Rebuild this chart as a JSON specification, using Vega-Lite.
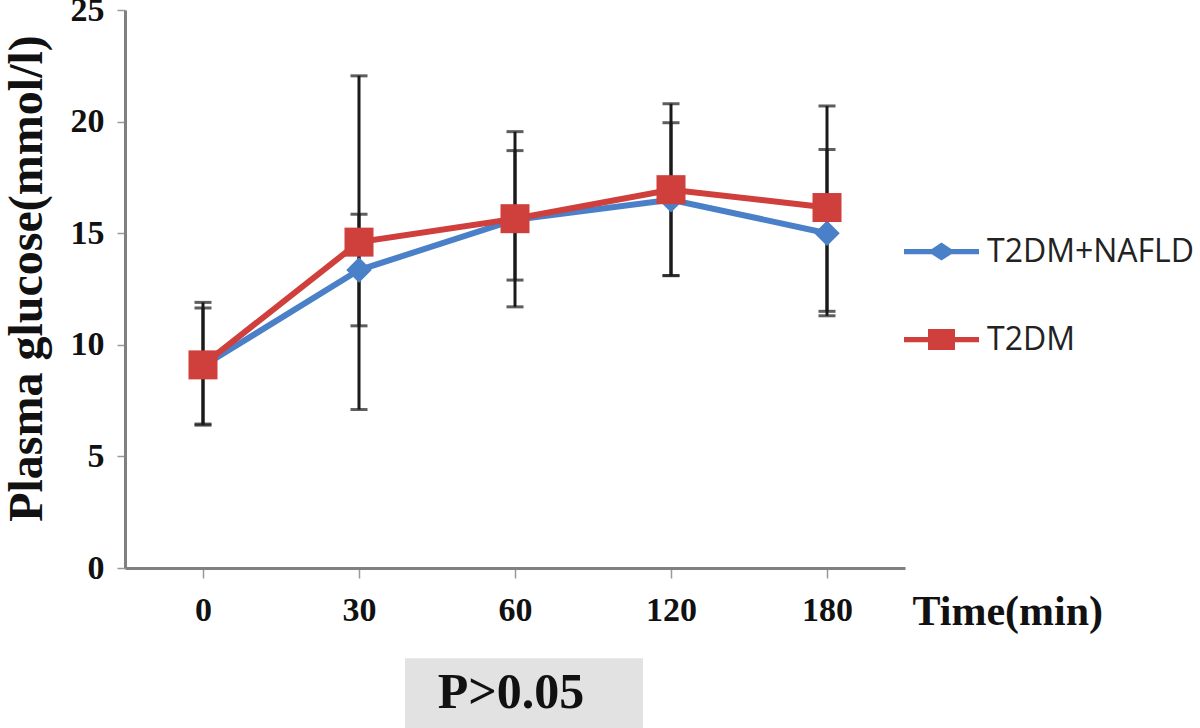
{
  "$schema": "https://vega.github.io/schema/vega-lite/v6.json",
  "width": 780,
  "height": 558,
  "autosize": {"type": "none"},
  "padding": {"left": 125, "top": 10, "right": 295, "bottom": 160},
  "background": "white",
  "config": {"view": {"stroke": null}},
  "data": {
    "values": [
      {"group": "T2DM+NAFLD", "time": "0", "mean": 9.05, "lo": 6.45, "hi": 11.65},
      {"group": "T2DM+NAFLD", "time": "30", "mean": 13.35, "lo": 10.85, "hi": 15.85},
      {"group": "T2DM+NAFLD", "time": "60", "mean": 15.6, "lo": 12.9, "hi": 18.7},
      {"group": "T2DM+NAFLD", "time": "120", "mean": 16.5, "lo": 13.1, "hi": 19.95},
      {"group": "T2DM+NAFLD", "time": "180", "mean": 15.0, "lo": 11.3, "hi": 18.75},
      {"group": "T2DM", "time": "0", "mean": 9.1, "lo": 6.4, "hi": 11.9},
      {"group": "T2DM", "time": "30", "mean": 14.6, "lo": 7.1, "hi": 22.05},
      {"group": "T2DM", "time": "60", "mean": 15.65, "lo": 11.7, "hi": 19.55},
      {"group": "T2DM", "time": "120", "mean": 16.95, "lo": 13.1, "hi": 20.8},
      {"group": "T2DM", "time": "180", "mean": 16.15, "lo": 11.5, "hi": 20.7}
    ]
  },
  "layer": [
    {
      "mark": {"type": "rule", "color": "#1a1a1a", "strokeWidth": 3},
      "encoding": {
        "x": {
          "field": "time", "type": "nominal",
          "scale": {"type": "point", "domain": ["0", "30", "60", "120", "180"], "padding": 0.5},
          "axis": {
            "title": "Time(min)",
            "titleFont": "Liberation Serif", "titleFontWeight": "bold", "titleFontSize": 42, "titleColor": "#111",
            "titleX": 787, "titleY": 43, "titleAlign": "left", "titleBaseline": "middle", "titleAngle": 0,
            "labelFont": "Liberation Serif", "labelFontWeight": "bold", "labelFontSize": 34, "labelColor": "#111",
            "labelAngle": 0, "labelPadding": 15,
            "ticks": true, "tickSize": 10, "tickColor": "#999", "tickWidth": 1.5,
            "domainColor": "#808080", "domainWidth": 3
          }
        },
        "y": {
          "field": "lo", "type": "quantitative",
          "scale": {"domain": [0, 25], "nice": false, "zero": true},
          "axis": {
            "title": "Plasma glucose(mmol/l)",
            "titleFont": "Liberation Serif", "titleFontWeight": "bold", "titleFontSize": 48, "titleColor": "#111",
            "titleX": -98, "titleY": 268, "titleAngle": -90, "titleAlign": "center", "titleBaseline": "middle",
            "values": [0, 5, 10, 15, 20, 25],
            "labelFont": "Liberation Serif", "labelFontWeight": "bold", "labelFontSize": 34, "labelColor": "#111",
            "labelPadding": 13,
            "grid": false, "tickSize": 8, "tickColor": "#999", "tickWidth": 1.5,
            "domainColor": "#808080", "domainWidth": 3
          }
        },
        "y2": {"field": "hi"}
      }
    },
    {
      "mark": {"type": "tick", "color": "#1a1a1a", "size": 17, "thickness": 3},
      "encoding": {
        "x": {"field": "time", "type": "nominal"},
        "y": {"field": "lo", "type": "quantitative"}
      }
    },
    {
      "mark": {"type": "tick", "color": "#1a1a1a", "size": 17, "thickness": 3},
      "encoding": {
        "x": {"field": "time", "type": "nominal"},
        "y": {"field": "hi", "type": "quantitative"}
      }
    },
    {
      "mark": {"type": "line", "strokeWidth": 6},
      "encoding": {
        "x": {"field": "time", "type": "nominal"},
        "y": {"field": "mean", "type": "quantitative"},
        "color": {
          "field": "group", "type": "nominal",
          "scale": {"domain": ["T2DM+NAFLD", "T2DM"], "range": ["#4a80c8", "#cf3f3c"]},
          "legend": {
            "title": null,
            "orient": "none", "legendX": 779, "legendY": 204,
            "padding": 0, "rowPadding": 34,
            "symbolSize": 5625, "symbolStrokeWidth": 0, "symbolOpacity": 1,
            "labelFont": "Open Sans", "labelFontSize": 32, "labelColor": "#222", "labelOffset": 8, "labelLimit": 400,
            "encode": {
              "symbols": {
                "update": {
                  "shape": {"signal": "datum.value === 'T2DM' ? 'M-1,-0.07L-0.36,-0.07L-0.36,-0.28L0.36,-0.28L0.36,-0.07L1,-0.07L1,0.07L0.36,0.07L0.36,0.28L-0.36,0.28L-0.36,0.07L-1,0.07Z' : 'M-1,-0.07L-0.26,-0.07L0,-0.24L0.26,-0.07L1,-0.07L1,0.07L0.26,0.07L0,0.24L-0.26,0.07L-1,0.07Z'"},
                  "fill": {"signal": "datum.value === 'T2DM' ? '#cf3f3c' : '#4a80c8'"},
                  "fillOpacity": {"value": 1},
                  "stroke": {"value": "transparent"},
                  "strokeWidth": {"value": 0}
                }
              }
            }
          }
        }
      }
    },
    {
      "transform": [{"filter": "datum.group === 'T2DM+NAFLD'"}],
      "mark": {"type": "point", "filled": true, "opacity": 1, "strokeWidth": 0, "shape": "diamond", "size": 650, "color": "#4a80c8"},
      "encoding": {
        "x": {"field": "time", "type": "nominal"},
        "y": {"field": "mean", "type": "quantitative"}
      }
    },
    {
      "transform": [{"filter": "datum.group === 'T2DM'"}],
      "mark": {"type": "point", "filled": true, "opacity": 1, "strokeWidth": 0, "shape": "square", "size": 841, "color": "#cf3f3c"},
      "encoding": {
        "x": {"field": "time", "type": "nominal"},
        "y": {"field": "mean", "type": "quantitative"}
      }
    },
    {
      "data": {"values": [{"note": "P>0.05"}]},
      "mark": {"type": "point", "filled": true, "color": "#e2e2e2", "opacity": 1, "size": 56644, "strokeWidth": 0,
               "shape": "M-1,-0.295L1,-0.295L1,0.295L-1,0.295Z", "xOffset": 9},
      "encoding": {
        "x": {"datum": "60", "type": "nominal"},
        "y": {"datum": -5.62, "type": "quantitative"}
      }
    },
    {
      "data": {"values": [{"note": "P>0.05"}]},
      "mark": {"type": "text", "font": "Liberation Serif", "fontWeight": "bold", "fontSize": 50, "color": "#111",
               "align": "center", "baseline": "middle", "xOffset": -4},
      "encoding": {
        "x": {"datum": "60", "type": "nominal"},
        "y": {"datum": -5.62, "type": "quantitative"},
        "text": {"field": "note"}
      }
    }
  ]
}
